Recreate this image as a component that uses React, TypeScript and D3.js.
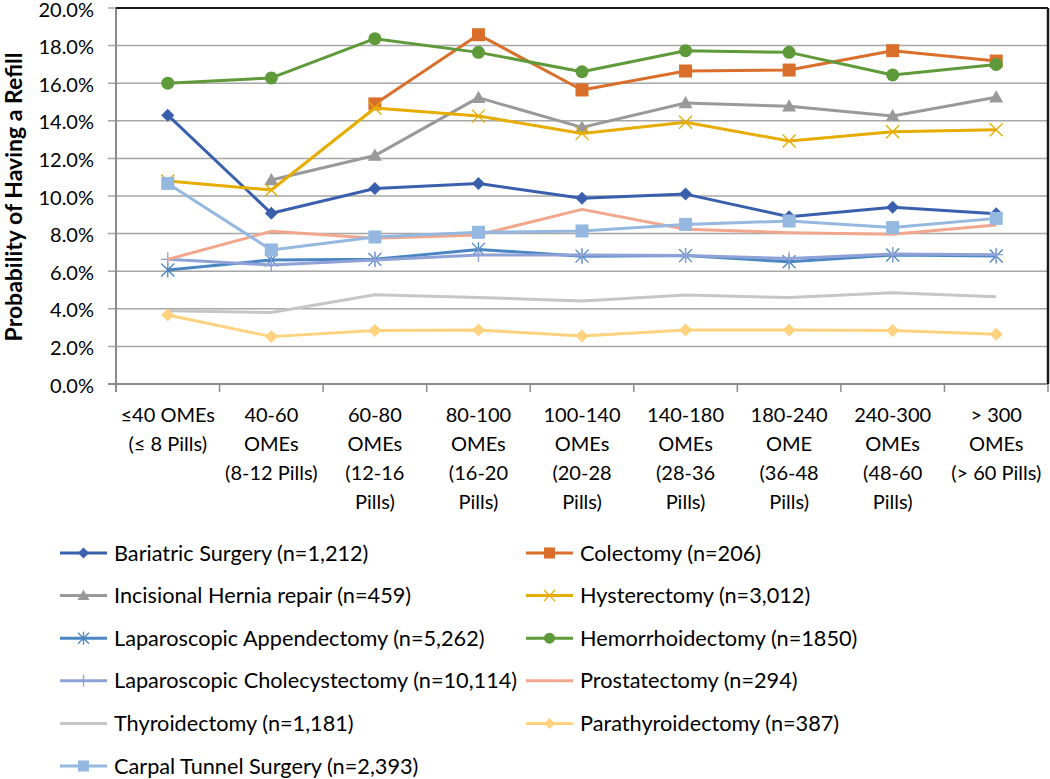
import React from "react";
import * as d3 from "d3";

const categories: string[][] = [
  ["≤40 OMEs", "(≤ 8 Pills)"],
  ["40-60", "OMEs", "(8-12 Pills)"],
  ["60-80", "OMEs", "(12-16", "Pills)"],
  ["80-100", "OMEs", "(16-20", "Pills)"],
  ["100-140", "OMEs", "(20-28", "Pills)"],
  ["140-180", "OMEs", "(28-36", "Pills)"],
  ["180-240", "OME", "(36-48", "Pills)"],
  ["240-300", "OMEs", "(48-60", "Pills)"],
  ["> 300", "OMEs", "(> 60 Pills)"],
];

const yTicks = [0, 2, 4, 6, 8, 10, 12, 14, 16, 18, 20];

const bariatric = [14.3, 9.08, 10.4, 10.67, 9.88, 10.1, 8.9, 9.4, 9.05];
const colectomy = [null, null, 14.9, 18.58, 15.64, 16.65, 16.7, 17.73, 17.18];
const incisional = [null, 10.85, 12.15, 15.23, 13.65, 14.95, 14.77, 14.25, 15.25];
const hysterectomy = [10.8, 10.32, 14.68, 14.25, 13.33, 13.92, 12.93, 13.42, 13.52];
const lapAppendectomy = [6.06, 6.6, 6.63, 7.16, 6.8, 6.83, 6.5, 6.86, 6.81];
const hemorrhoidectomy = [16.0, 16.28, 18.37, 17.64, 16.61, 17.73, 17.64, 16.44, 17.0];
const lapChole = [6.63, 6.33, 6.6, 6.86, 6.86, 6.83, 6.68, 6.91, 6.88];
const prostatectomy = [6.63, 8.12, 7.75, 7.93, 9.29, 8.23, 8.05, 7.96, 8.46];
const thyroidectomy = [3.9, 3.8, 4.75, 4.6, 4.42, 4.73, 4.6, 4.86, 4.64];
const parathyroidectomy = [3.67, 2.52, 2.84, 2.87, 2.55, 2.87, 2.87, 2.84, 2.64];
const carpalTunnel = [10.67, 7.13, 7.82, 8.07, 8.14, 8.49, 8.67, 8.32, 8.81];

type Marker = "diamond" | "square" | "triangle" | "x" | "asterisk" | "circle" | "plus" | "none";
interface Series { name: string; values: (number | null)[]; color: string; marker: Marker }

const series: Series[] = [
  { name: "Bariatric Surgery (n=1,212)", values: bariatric, color: "#3A60AD", marker: "diamond" },
  { name: "Colectomy (n=206)", values: colectomy, color: "#DA6F2C", marker: "square" },
  { name: "Incisional Hernia repair (n=459)", values: incisional, color: "#999999", marker: "triangle" },
  { name: "Hysterectomy (n=3,012)", values: hysterectomy, color: "#E6AC00", marker: "x" },
  { name: "Laparoscopic Appendectomy (n=5,262)", values: lapAppendectomy, color: "#4A86C2", marker: "asterisk" },
  { name: "Hemorrhoidectomy (n=1850)", values: hemorrhoidectomy, color: "#5E9A3A", marker: "circle" },
  { name: "Laparoscopic Cholecystectomy (n=10,114)", values: lapChole, color: "#8FA2D8", marker: "plus" },
  { name: "Prostatectomy (n=294)", values: prostatectomy, color: "#F2A78C", marker: "none" },
  { name: "Thyroidectomy (n=1,181)", values: thyroidectomy, color: "#C6C6C6", marker: "none" },
  { name: "Parathyroidectomy (n=387)", values: parathyroidectomy, color: "#FFD27F", marker: "diamond" },
  { name: "Carpal Tunnel Surgery (n=2,393)", values: carpalTunnel, color: "#95B8E1", marker: "square" },
];

const FONT = "Lato, 'Liberation Sans', sans-serif";

function MarkerShape({ type, x, y, color, legend }: { type: Marker; x: number; y: number; color: string; legend?: boolean }) {
  const s = legend ? 0.85 : 1;
  switch (type) {
    case "diamond": {
      const r = 6.5 * s;
      return <path d={`M${x},${y - r}L${x + r},${y}L${x},${y + r}L${x - r},${y}Z`} fill={color} />;
    }
    case "square": {
      const r = 6.5 * s;
      return <rect x={x - r} y={y - r} width={2 * r} height={2 * r} fill={color} />;
    }
    case "triangle": {
      const r = 7 * s;
      return <path d={`M${x},${y - r}L${x + r},${y + r * 0.75}L${x - r},${y + r * 0.75}Z`} fill={color} />;
    }
    case "circle":
      return <circle cx={x} cy={y} r={6.5 * s} fill={color} />;
    case "x": {
      const r = 6.5 * s;
      return <path d={`M${x - r},${y - r}L${x + r},${y + r}M${x + r},${y - r}L${x - r},${y + r}`} stroke={color} strokeWidth={1.3} fill="none" />;
    }
    case "asterisk": {
      const r = 6.5 * s;
      return <path d={`M${x - r},${y - r}L${x + r},${y + r}M${x + r},${y - r}L${x - r},${y + r}M${x},${y - r - 1}L${x},${y + r + 1}`} stroke={color} strokeWidth={1.3} fill="none" />;
    }
    case "plus": {
      const r = 7 * s;
      return <path d={`M${x},${y - r}L${x},${y + r}M${x - r},${y}L${x + r},${y}`} stroke={color} strokeWidth={1.3} fill="none" />;
    }
    default:
      return null;
  }
}

export default function App() {
  const W = 1050, H = 779;
  const left = 116, right = 1048, top = 8, bottom = 384;
  const x = d3.scaleBand<number>().domain(d3.range(categories.length)).range([left, right]).padding(0);
  const y = d3.scaleLinear().domain([0, 20]).range([bottom, top]);
  const cx = (i: number) => (x(i) as number) + x.bandwidth() / 2;

  const line = d3.line<number | null>()
    .defined((d) => d !== null)
    .x((_, i) => cx(i))
    .y((d) => y(d as number));

  const bounds = d3.range(categories.length + 1).map((i) => left + i * x.bandwidth());

  const legendRowY = (r: number) => 553 + r * 42.6;

  return (
    <svg width={W} height={H} style={{ position: "absolute", left: 0, top: 0, background: "#fff" }} fontFamily={FONT}>
      <rect width={W} height={H} fill="#fff" />
      {/* gridlines */}
      {yTicks.map((t) => (
        <line key={t} x1={left - 8} x2={right} y1={y(t)} y2={y(t)} stroke="#A6A6A6" strokeWidth={1.5} />
      ))}
      {/* y tick labels */}
      {yTicks.map((t) => (
        <text key={"l" + t} x={94} y={y(t) + 8.5} textAnchor="end" fontSize={20} fill="#000">
          {t.toFixed(1) + "%"}
        </text>
      ))}
      {/* axes */}
      <line x1={left} x2={left} y1={top} y2={bottom + 8} stroke="#8C8C8C" strokeWidth={2} />
      <line x1={left - 8} x2={right} y1={bottom} y2={bottom} stroke="#8C8C8C" strokeWidth={2} />
      {bounds.map((b, i) => (
        <line key={"t" + i} x1={b} x2={b} y1={bottom} y2={bottom + 8} stroke="#8C8C8C" strokeWidth={1.5} />
      ))}
      <line x1={left} x2={right} y1={top} y2={top} stroke="#1A1A1A" strokeWidth={2} />
      <line x1={right} x2={right} y1={top} y2={bottom} stroke="#1A1A1A" strokeWidth={2.5} />

      {/* series */}
      {series.map((s) => (
        <g key={s.name}>
          <path d={line(s.values) || ""} fill="none" stroke={s.color} strokeWidth={3} strokeLinejoin="round" />
          {s.values.map((v, i) =>
            v === null ? null : <MarkerShape key={i} type={s.marker} x={cx(i)} y={y(v)} color={s.color} />
          )}
        </g>
      ))}

      {/* x labels */}
      {categories.map((lines, i) => (
        <text key={"c" + i} textAnchor="middle" fontSize={20} fill="#000">
          {lines.map((ln, j) => (
            <tspan key={j} x={cx(i)} y={415 + j * 29} dy="0.35em">{ln}</tspan>
          ))}
        </text>
      ))}

      {/* y title */}
      <text transform={`translate(22,197) rotate(-90)`} textAnchor="middle" fontSize={23} fontWeight="bold" fill="#000">
        Probability of Having a Refill
      </text>

      {/* legend */}
      {series.map((s, k) => {
        const col = k % 2;
        const row = Math.floor(k / 2);
        const lx = col === 0 ? 60 : 526;
        const ly = legendRowY(row);
        return (
          <g key={"lg" + k}>
            <line x1={lx} x2={lx + 47} y1={ly} y2={ly} stroke={s.color} strokeWidth={3} />
            <MarkerShape type={s.marker} x={lx + 23.5} y={ly} color={s.color} legend />
            <text x={lx + 54} y={ly} dy="0.35em" fontSize={21.7} fill="#000">{s.name}</text>
          </g>
        );
      })}
    </svg>
  );
}
